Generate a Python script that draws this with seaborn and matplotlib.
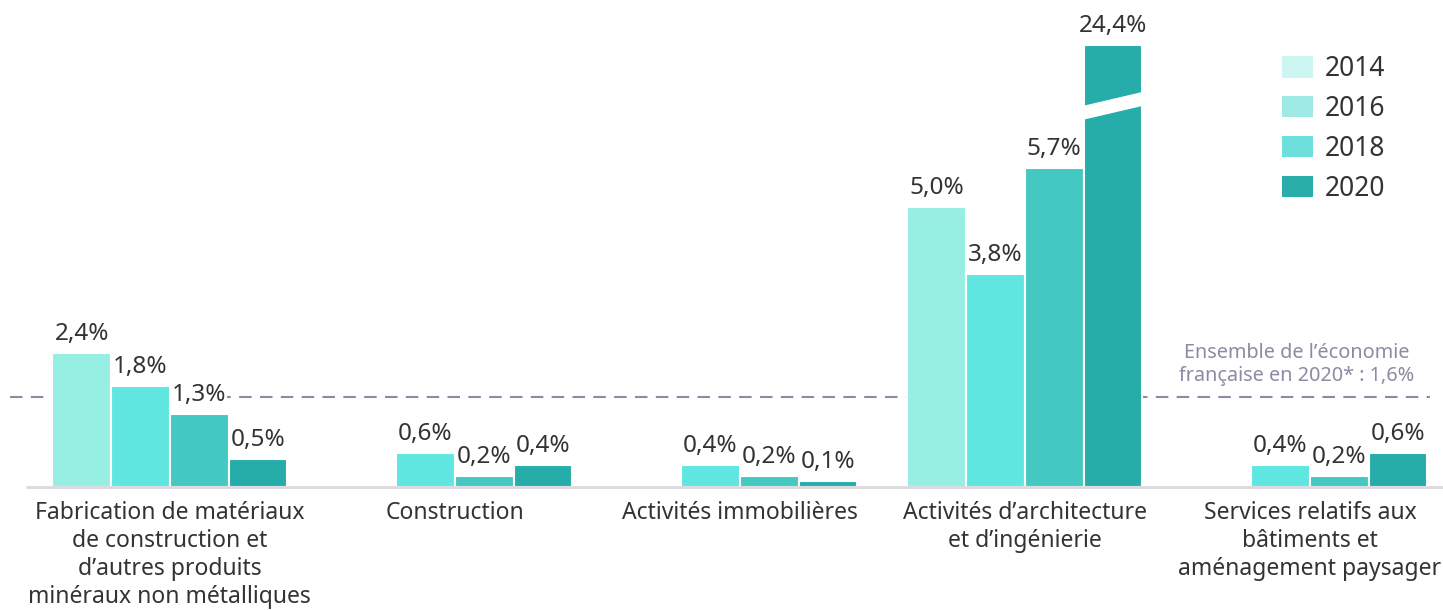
import matplotlib.pyplot as plt
import seaborn as sns
import pandas as pd
import numpy as np
from matplotlib.patches import Patch, Polygon

# Données (en %)
categories = ["fab", "constr", "immo", "archi", "serv"]
tick_labels = [
    "Fabrication de matériaux\nde construction et\nd’autres produits\nminéraux non métalliques",
    "Construction",
    "Activités immobilières",
    "Activités d’architecture\net d’ingénierie",
    "Services relatifs aux\nbâtiments et\naménagement paysager",
]
years = ["2014", "2016", "2018", "2020"]
v2014 = [2.4, np.nan, np.nan, 5.0, np.nan]
v2016 = [1.8, 0.6, 0.4, 3.8, 0.4]
v2018 = [1.3, 0.2, 0.2, 5.7, 0.2]
v2020 = [0.5, 0.4, 0.1, 24.4, 0.6]
economie_2020 = 1.6

bar_colors = ["#97EFE4", "#60E6E0", "#44C9C2", "#27ADA9"]
legend_colors = ["#CDF5F2", "#A0EAE6", "#6EE0DC", "#28ADA9"]
cap = 7.9  # hauteur affichée max (axe coupé)

rows = []
for year, vals in zip(years, [v2014, v2016, v2018, v2020]):
    for cat, v in zip(categories, vals):
        if not np.isnan(v):
            rows.append({"cat": cat, "year": year, "value": v, "shown": min(v, cap)})
df = pd.DataFrame(rows)

sns.set_style("white")
plt.rcParams["font.family"] = ["Noto Sans", "DejaVu Sans"]
plt.rcParams["font.weight"] = "light"

fig = plt.figure(figsize=(14.43, 6.10), dpi=100)
ax = fig.add_axes([0, 0.2016, 1, 0.7984])

sns.barplot(data=df, x="cat", y="shown", hue="year", order=categories,
            hue_order=years, palette=bar_colors, saturation=1, width=0.825,
            edgecolor="white", linewidth=1.5, ax=ax, legend=False, zorder=3)

ax.set_xlim(-0.596, 4.467)
ax.set_ylim(0, 8.7)

# Ligne de référence : ensemble de l'économie
ax.plot([-0.56, 4.42], [economie_2020] * 2, color="#8B8BA3", lw=1.5,
        dashes=(6, 4), zorder=1)
ax.text(3.955, 1.8, "Ensemble de l’économie\nfrançaise en 2020* : 1,6%",
        ha="center", va="bottom", fontsize=14.3, color="#8B8BA3",
        linespacing=1.25)

# Ligne de base
ax.plot([-0.5, 4.47], [0, 0], color="#DADADF", lw=2, zorder=4, clip_on=False)

# Étiquettes de valeur
lookup = {(c, y): v for c, y, v in zip(df["cat"], df["year"], df["value"])}
for year, cont in zip(years, ax.containers):
    for p in cont.patches:
        if np.isnan(p.get_height()):
            continue
        xc = p.get_x() + p.get_width() / 2
        cat = categories[int(round(xc))]
        val = lookup[(cat, year)]
        ax.annotate(f"{val:.1f}%".replace(".", ","), (xc, p.get_height()),
                    xytext=(0, 5), textcoords="offset points", ha="center",
                    va="bottom", fontsize=17.5, color="#333333", zorder=5,
                    bbox=dict(fc="white", ec="none", pad=0.5))
        if val > cap:
            x0, w = p.get_x() - 0.01, p.get_width() + 0.02
            ax.add_patch(Polygon([(x0, 6.55), (x0 + w, 6.82), (x0 + w, 7.07), (x0, 6.80)],
                                 closed=True, fc="white", ec="none", zorder=4))

ax.set_xticks(range(len(categories)))
ax.set_xticklabels(tick_labels)
for t in ax.get_xticklabels():
    t.set_linespacing(1.23)
ax.tick_params(axis="x", length=0, pad=10, labelsize=16.5, labelcolor="#333333")
ax.set_yticks([])
ax.set_xlabel("")
ax.set_ylabel("")
sns.despine(ax=ax, left=True, bottom=True)

handles = [Patch(facecolor=c, edgecolor="none") for c in legend_colors]
fig.legend(handles, years, loc="upper left", bbox_to_anchor=(1282 / 1443, 1 - 55 / 610),
           frameon=False, fontsize=19, handlelength=1.17, handleheight=0.87,
           handletextpad=0.45, labelspacing=0.45, borderpad=0, borderaxespad=0,
           labelcolor="#333333")

fig.savefig("out.png", dpi=100)
plt.close()
